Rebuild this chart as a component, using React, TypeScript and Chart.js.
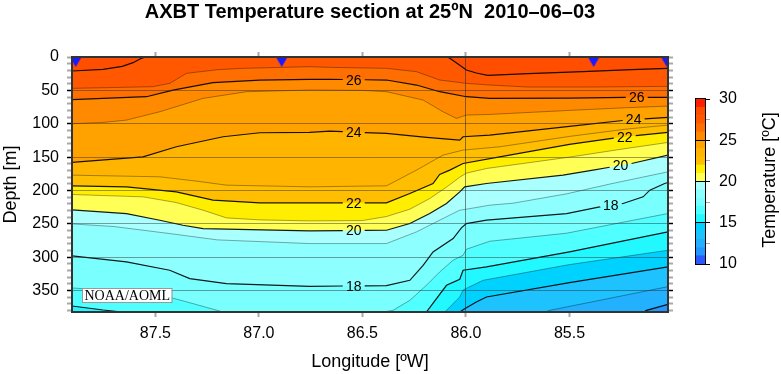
import React, { useEffect, useRef } from 'react';
import { Chart, registerables } from 'chart.js';

Chart.register(...registerables);

type P = [number, number];

// ---------- axis ranges / ticks ----------
const LON_WEST = 87.903;
const LON_EAST = 85.024;
const DEPTH_BOTTOM = 382;
const lonTickValues = [87.5, 87.0, 86.5, 86.0, 85.5];
const depthTickValues = [0, 10, 20, 30, 40, 50, 60, 70, 80, 90, 100, 110, 120, 130, 140, 150, 160, 170, 180, 190, 200, 210, 220, 230, 240, 250, 260, 270, 280, 290, 300, 310, 320, 330, 340, 350, 360, 370, 380];
const depthLabelStep = 50;
const gridLon = 86.0;

// ---------- stations (AXBT drops) ----------
const stationLons = [87.885, 86.89, 85.383, 85.03];

// ---------- colour bands (lower bound of each 1 degree band) ----------
const bandLows = [10, 11, 12, 13, 14, 15, 16, 17, 18, 19, 20, 21, 22, 23, 24, 25, 26, 27, 28, 29];
const bandColors = [
  '#2a5aff', '#2496ff', '#22b0ff', '#1ec2ff', '#00d2ff',
  '#22f8ff', '#50ffff', '#7affff', '#8effff', '#aaffff',
  '#ffff55', '#ffee00', '#ffbe00', '#ffb400', '#ffa200',
  '#ff8a00', '#ff6e00', '#ff5800', '#ff4e00', '#ff1e00',
];

// ---------- isotherm depths [longitude W, depth m] ----------
const iso28: P[] = [[87.903, 21], [87.753, 18.5], [87.66, 14], [87.608, 8.5], [87.568, 2], [87.55, 0], [86.09, 0], [86.078, 2], [86.04, 10], [85.998, 19.5], [85.95, 24], [85.895, 27.5], [85.7, 25], [85.436, 22], [85.2, 19], [85.024, 17]];
const iso27: P[] = [[87.903, 47], [87.513, 44.5], [87.431, 39.5], [87.35, 24.5], [87.2, 19], [87.077, 17], [86.755, 14.5], [86.658, 15.5], [86.384, 17], [86.239, 22], [86.127, 34.5], [85.998, 39.5], [85.885, 42], [85.7, 45], [85.4, 45], [85.024, 44]];
const iso26: P[] = [[87.903, 64], [87.543, 59.5], [87.415, 49.5], [87.222, 38.5], [86.996, 34.5], [86.755, 33.5], [86.658, 33.5], [86.384, 34.5], [86.239, 42], [86.127, 52], [85.998, 59.5], [85.885, 62], [85.5, 61.5], [85.209, 60.5], [85.024, 60.5]];
const iso25: P[] = [[87.903, 100], [87.75, 98], [87.64, 94.5], [87.479, 82], [87.27, 62], [87.06, 52], [86.755, 49.5], [86.5, 50], [86.384, 52], [86.207, 64.5], [86.111, 82], [86.046, 92], [86.022, 89.5], [85.998, 87], [85.885, 86], [85.5, 80], [85.225, 76], [85.024, 73.5]];
const iso24: P[] = [[87.903, 158], [87.56, 149.5], [87.399, 134.5], [87.173, 119.5], [86.996, 113.5], [86.755, 113], [86.658, 111], [86.384, 114.5], [86.19, 120.5], [86.03, 124.5], [86.014, 119.5], [85.885, 117], [85.5, 104], [85.225, 94.5], [85.024, 90.5]];
const iso23: P[] = [[87.903, 177], [87.479, 179.5], [87.3, 186], [87.157, 192], [86.755, 194.5], [86.384, 193], [86.239, 169.5], [86.111, 147], [86.014, 139.5], [85.837, 134.5], [85.5, 119], [85.225, 108], [85.024, 102]];
const iso22: P[] = [[87.903, 193], [87.64, 194.5], [87.399, 202], [87.222, 214.5], [86.996, 218.5], [86.384, 218.5], [86.271, 204.5], [86.159, 189.5], [86.127, 176], [86.078, 169.5], [86.014, 159.5], [85.837, 149.5], [85.5, 131], [85.225, 119], [85.024, 113]];
const iso21: P[] = [[87.903, 206], [87.56, 209.5], [87.4, 218], [87.27, 229.5], [87.157, 241], [86.996, 244], [86.755, 245.5], [86.5, 245], [86.384, 239], [86.271, 228], [86.175, 212], [86.094, 195], [86.03, 180], [85.998, 174], [85.9, 167], [85.5, 150], [85.225, 137], [85.024, 128]];
const iso20: P[] = [[87.903, 229], [87.64, 234.5], [87.479, 244.5], [87.367, 252], [87.27, 257], [86.755, 260.5], [86.384, 259.5], [86.271, 249.5], [86.175, 234.5], [86.094, 219.5], [86.03, 202], [86.006, 194.5], [85.901, 189.5], [85.531, 177], [85.386, 169.5], [85.2, 159.5], [85.024, 147]];
const iso19: P[] = [[87.903, 250], [87.7, 254], [87.431, 264.5], [87.2, 274], [86.755, 279.5], [86.384, 279.5], [86.239, 262], [86.111, 242], [86.03, 229.5], [85.998, 228], [85.885, 222], [85.772, 219], [85.514, 205], [85.3, 190], [85.024, 172]];
const iso18: P[] = [[87.903, 298], [87.64, 307], [87.431, 319.5], [87.334, 332], [87.157, 339.5], [86.755, 343.5], [86.384, 342.5], [86.271, 334.5], [86.207, 312], [86.159, 292], [86.062, 272], [86.022, 256], [85.998, 249.5], [85.901, 244.5], [85.514, 234.5], [85.354, 224.5], [85.241, 219.5], [85.144, 209.5], [85.112, 199.5], [85.04, 189.5], [85.024, 188]];
const iso17: P[] = [[87.903, 346], [87.7, 350], [87.479, 358], [87.431, 360], [87.318, 369.5], [87.173, 382], [86.4, 382], [86.352, 379.5], [86.271, 364.5], [86.191, 342], [86.127, 322], [86.062, 304.5], [86.014, 297], [85.998, 288], [85.885, 276], [85.514, 264], [85.2, 245], [85.024, 234.5]];
const iso16: P[] = [[87.903, 373], [87.753, 379], [87.66, 382], [86.191, 382], [86.094, 342], [86.03, 333], [86.014, 319.5], [85.901, 314.5], [85.5, 292], [85.024, 262]];
const iso15: P[] = [[86.102, 382], [86.03, 359.5], [86.014, 349], [85.917, 334.5], [85.5, 311], [85.024, 289.5]];
const iso14: P[] = [[86.03, 382], [86.006, 377], [85.95, 367], [85.901, 359.5], [85.5, 338], [85.024, 314.5]];
const iso13: P[] = [[85.62, 382], [85.595, 379.5], [85.024, 344]];
const iso12: P[] = [[85.14, 382], [85.128, 379.5], [85.024, 370.5]];

const isoTemps = [28, 27, 26, 25, 24, 23, 22, 21, 20, 19, 18, 17, 16, 15, 14, 13, 12];
const isoLines = [iso28, iso27, iso26, iso25, iso24, iso23, iso22, iso21, iso20, iso19, iso18, iso17, iso16, iso15, iso14, iso13, iso12];

// ---------- contour labels ----------
const labelTemps = [26, 24, 22, 20, 18];
const labelLonsMid = [86.542, 86.542, 86.542, 86.542, 86.542];
const labelLonsEast = [85.175, 85.19, 85.233, 85.253, 85.3];
const labelHalfGap = 0.053;

// ---------- colour bar ----------
const cbTickValues = [10, 12.5, 15, 17.5, 20, 22.5, 25, 27.5, 30];
const cbLabelStep = 5;

const FONT = 'Liberation Sans';

function bandColor(low: number): string {
  return bandColors[bandLows.indexOf(low)];
}

function depthAt(line: P[], lon: number): number {
  for (let i = 0; i < line.length - 1; i++) {
    const [x0, y0] = line[i];
    const [x1, y1] = line[i + 1];
    if ((lon <= x0 && lon >= x1) || (lon >= x0 && lon <= x1)) {
      const t = x1 === x0 ? 0 : (lon - x0) / (x1 - x0);
      return y0 + t * (y1 - y0);
    }
  }
  return NaN;
}

function withGaps(line: P[], lons: number[]) {
  let pts: { x: number; y: number | null }[] = line.map(([x, y]) => ({ x, y }));
  lons.forEach((L) => {
    const a = L + labelHalfGap;
    const b = L - labelHalfGap;
    const ya = depthAt(line, a);
    const yb = depthAt(line, b);
    if (isNaN(ya) || isNaN(yb)) return;
    pts = pts.filter((p) => !(p.x < a && p.x > b));
    pts.push({ x: a, y: ya }, { x: L, y: null }, { x: b, y: yb });
  });
  pts.sort((p, q) => q.x - p.x);
  return pts;
}

function makeTriangle(): HTMLCanvasElement {
  const c = document.createElement('canvas');
  c.width = 12;
  c.height = 20;
  const g = c.getContext('2d')!;
  g.fillStyle = '#1a1aff';
  g.beginPath();
  g.moveTo(0.2, 10);
  g.lineTo(11.8, 10);
  g.lineTo(6, 20);
  g.closePath();
  g.fill();
  return c;
}

export default function App() {
  const mainRef = useRef<HTMLCanvasElement>(null);
  const cbRef = useRef<HTMLCanvasElement>(null);

  useEffect(() => {
    Chart.defaults.font.family = FONT;
    Chart.defaults.color = '#000';

    const fillSets = isoTemps.map((t, i) => ({
      type: 'line' as const,
      data: isoLines[i].map(([x, y]) => ({ x, y })),
      fill: 'start' as const,
      backgroundColor: bandColor(t - 1),
      borderWidth: 0,
      borderColor: 'rgba(0,0,0,0)',
      pointRadius: 0,
      tension: 0,
      order: t,
    }));

    const lineSets = isoTemps.map((t, i) => {
      const li = labelTemps.indexOf(t);
      const gaps = li >= 0 ? [labelLonsMid[li], labelLonsEast[li]] : [];
      const even = t % 2 === 0;
      return {
        type: 'line' as const,
        data: withGaps(isoLines[i], gaps),
        fill: false,
        borderColor: even ? 'rgba(0,0,0,0.9)' : 'rgba(0,0,0,0.38)',
        borderWidth: even ? 1.2 : 0.9,
        pointRadius: 0,
        tension: 0,
        spanGaps: false,
        order: -50,
      };
    });

    const stationSet = {
      type: 'scatter' as const,
      data: stationLons.map((x) => ({ x, y: 0 })),
      pointStyle: makeTriangle(),
      pointRadius: 6,
      clip: 0,
      order: -100,
    };

    const sectionPlugin = {
      id: 'section',
      beforeDatasetsDraw(chart: any) {
        const { ctx, chartArea: a } = chart;
        ctx.save();
        ctx.fillStyle = bandColor(28);
        ctx.fillRect(a.left, a.top, a.right - a.left, a.bottom - a.top);
        ctx.restore();
      },
      afterDatasetsDraw(chart: any) {
        const { ctx } = chart;
        const xs = chart.scales.x;
        const ys = chart.scales.y;
        ctx.save();
        ctx.font = `14px "${FONT}"`;
        ctx.fillStyle = '#000';
        ctx.textAlign = 'center';
        ctx.textBaseline = 'middle';
        labelTemps.forEach((t, i) => {
          const line = isoLines[isoTemps.indexOf(t)];
          [labelLonsMid[i], labelLonsEast[i]].forEach((L) => {
            const d = depthAt(line, L);
            ctx.fillText(String(t), xs.getPixelForValue(L), ys.getPixelForValue(d) + 1);
          });
        });
        ctx.restore();
      },
      afterDraw(chart: any) {
        const { ctx, chartArea: a } = chart;
        ctx.save();
        ctx.font = '14px "Liberation Serif"';
        const txt = 'NOAA/AOML';
        const w = ctx.measureText(txt).width + 4;
        const bx = a.left + 10;
        const by = a.bottom - 24;
        ctx.fillStyle = '#fff';
        ctx.fillRect(bx, by, w, 14);
        ctx.strokeStyle = '#999';
        ctx.lineWidth = 1;
        ctx.strokeRect(bx + 0.5, by + 0.5, w, 14);
        ctx.fillStyle = '#000';
        ctx.textBaseline = 'middle';
        ctx.fillText(txt, bx + 2.5, by + 8);
        ctx.restore();
      },
    };

    const tickFont = { family: FONT, size: 16 };
    const titleFont = { family: FONT, size: 18, lineHeight: 1.2 };
    const minorTick = '#a8a8a8';
    const border = { display: true, color: '#333', width: 2, z: 2 };

    const isMajorDepth = (c: any) => c.tick && c.tick.value % depthLabelStep === 0 && c.tick.value > 0;
    const depthTickColor = (c: any) => (isMajorDepth(c) ? '#000' : minorTick);

    const main = new Chart(mainRef.current!, {
      type: 'line',
      data: { datasets: [...fillSets, ...lineSets, stationSet] as any },
      options: {
        animation: false,
        responsive: false,
        events: [],
        layout: { padding: 0 },
        plugins: {
          legend: { display: false },
          tooltip: { enabled: false },
          title: {
            display: true,
            text: 'AXBT Temperature section at 25ºN  2010–06–03',
            font: { family: FONT, size: 20, weight: 'bold', lineHeight: 1.2 },
            color: '#000',
            padding: { top: 0, bottom: 0 },
            fullSize: false,
          },
        },
        scales: {
          x: {
            type: 'linear',
            position: 'bottom',
            reverse: true,
            min: LON_EAST,
            max: LON_WEST,
            afterBuildTicks: (s: any) => {
              s.ticks = lonTickValues.map((v) => ({ value: v }));
            },
            afterFit: (s: any) => {
              s.height = 62;
            },
            ticks: {
              autoSkip: false,
              maxRotation: 0,
              padding: 7,
              font: tickFont,
              color: '#000',
              callback: (v: any) => Number(v).toFixed(1),
            },
            grid: {
              z: 1,
              color: (c: any) => (c.tick && Math.abs(c.tick.value - gridLon) < 1e-6 ? 'rgba(40,40,40,0.55)' : 'rgba(0,0,0,0)'),
              tickColor: minorTick,
              tickLength: 5,
              tickWidth: 2,
              lineWidth: 1,
            },
            border,
            title: { display: true, text: 'Longitude [ºW]', font: titleFont, color: '#000', padding: { top: 0, bottom: 1 } },
          },
          x2: {
            type: 'linear',
            position: 'top',
            reverse: true,
            min: LON_EAST,
            max: LON_WEST,
            afterBuildTicks: (s: any) => {
              s.ticks = lonTickValues.map((v) => ({ value: v }));
            },
            afterFit: (s: any) => {
              s.height = 33;
            },
            ticks: { display: false, autoSkip: false },
            grid: { z: 1, drawOnChartArea: false, tickColor: minorTick, tickLength: 5, tickWidth: 2 },
            border,
          },
          y: {
            type: 'linear',
            position: 'left',
            reverse: true,
            min: 0,
            max: DEPTH_BOTTOM,
            afterBuildTicks: (s: any) => {
              s.ticks = depthTickValues.map((v) => ({ value: v }));
            },
            afterFit: (s: any) => {
              s.width = 72;
            },
            ticks: {
              autoSkip: false,
              padding: 8,
              font: tickFont,
              color: '#000',
              callback: (v: any) => (Number(v) % depthLabelStep === 0 ? String(v) : ''),
            },
            grid: {
              z: 1,
              color: (c: any) => (isMajorDepth(c) ? 'rgba(40,40,40,0.45)' : 'rgba(0,0,0,0)'),
              tickColor: depthTickColor,
              tickLength: 5,
              tickWidth: (c: any) => (isMajorDepth(c) ? 1.5 : 2),
              lineWidth: 1,
            },
            border,
            title: { display: true, text: 'Depth [m]', font: titleFont, color: '#000', padding: { top: 0, bottom: 0 } },
          },
          y2: {
            type: 'linear',
            position: 'right',
            reverse: true,
            min: 0,
            max: DEPTH_BOTTOM,
            afterBuildTicks: (s: any) => {
              s.ticks = depthTickValues.map((v) => ({ value: v }));
            },
            afterFit: (s: any) => {
              s.width = 113;
            },
            ticks: { display: false, autoSkip: false },
            grid: {
              z: 1,
              drawOnChartArea: false,
              tickColor: depthTickColor,
              tickLength: 5,
              tickWidth: (c: any) => (isMajorDepth(c) ? 1.5 : 2),
            },
            border,
          },
        },
      } as any,
      plugins: [sectionPlugin],
    });

    // ---------- colour bar ----------
    const cbSets = bandLows.map((lo, i) => ({
      data: [[lo, lo + 1]],
      backgroundColor: bandColors[i],
      borderWidth: 0,
      grouped: false,
      barPercentage: 1,
      categoryPercentage: 1,
    }));

    const cbPlugin = {
      id: 'cbframe',
      afterDraw(chart: any) {
        const { ctx, chartArea: a } = chart;
        ctx.save();
        ctx.strokeStyle = '#000';
        ctx.lineWidth = 1;
        ctx.strokeRect(a.left - 0.5, a.top - 0.5, a.right - a.left + 1, a.bottom - a.top + 1);
        ctx.translate(90.5, 100);
        ctx.rotate(-Math.PI / 2);
        ctx.font = `18px "${FONT}"`;
        ctx.fillStyle = '#000';
        ctx.textAlign = 'center';
        ctx.textBaseline = 'middle';
        ctx.fillText('Temperature [ºC]', 0, 0);
        ctx.restore();
      },
    };

    const cb = new Chart(cbRef.current!, {
      type: 'bar',
      data: { labels: [''], datasets: cbSets as any },
      options: {
        animation: false,
        responsive: false,
        events: [],
        layout: { padding: { left: 16, top: 19, bottom: 36, right: 0 } },
        plugins: { legend: { display: false }, tooltip: { enabled: false }, title: { display: false } },
        scales: {
          x: { display: false },
          y: {
            position: 'right',
            min: 10,
            max: 30,
            afterBuildTicks: (s: any) => {
              s.ticks = cbTickValues.map((v) => ({ value: v }));
            },
            afterFit: (s: any) => {
              s.width = 76;
            },
            ticks: {
              autoSkip: false,
              padding: 9,
              font: tickFont,
              color: '#000',
              callback: (v: any) => (Number(v) % cbLabelStep === 0 ? String(v) : ''),
            },
            grid: {
              z: 1,
              color: (c: any) =>
                c.tick && c.tick.value % cbLabelStep === 0 && c.tick.value > 10 && c.tick.value < 30 ? '#000' : 'rgba(0,0,0,0)',
              tickColor: (c: any) => (c.tick && c.tick.value % cbLabelStep === 0 ? '#000' : minorTick),
              tickLength: 5,
              lineWidth: 1,
            },
            border: { display: true, color: '#000', width: 1, z: 2 },
          },
        },
      } as any,
      plugins: [cbPlugin],
    });

    return () => {
      main.destroy();
      cb.destroy();
    };
  }, []);

  return (
    <div style={{ position: 'absolute', left: 0, top: 0, width: 781, height: 374, background: '#fff', overflow: 'hidden' }}>
      <canvas ref={mainRef} width={781} height={374} style={{ position: 'absolute', left: 0, top: 0 }} />
      <canvas ref={cbRef} width={101} height={220} style={{ position: 'absolute', left: 680, top: 80 }} />
    </div>
  );
}
